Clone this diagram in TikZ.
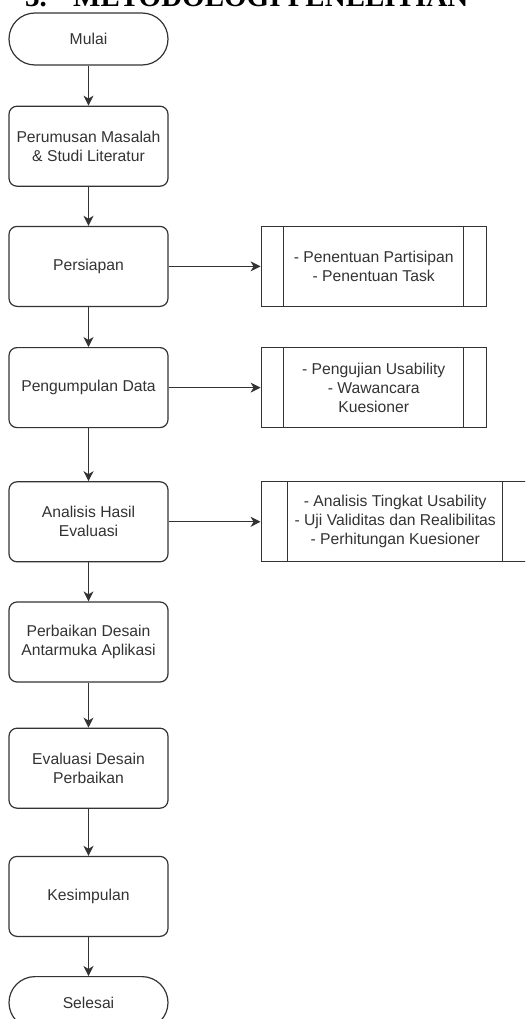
\documentclass[tikz,border=0pt]{standalone}
\usepackage{fontspec}
\usepackage{tikz}
\usetikzlibrary{positioning,arrows.meta}
\newfontfamily\flowfont{Liberation Sans}
\newfontfamily\headfont{Liberation Serif}
\colorlet{ink}{black!80}

\begin{document}
\begin{tikzpicture}[
    x=1pt,y=1pt,
    proc/.style={draw=ink,line width=1.2pt,rounded corners=8pt,minimum height=80pt,minimum width=159pt,
                 inner sep=2pt,font=\flowfont\fontsize{15.7}{19}\selectfont,text=ink,align=center},
    term/.style={proc,rounded corners=26pt,minimum height=52pt},
    subproc/.style={draw=ink,line width=1.2pt,minimum height=80pt,minimum width=#1,
                 inner sep=2pt,font=\flowfont\fontsize{15.7}{19}\selectfont,text=ink,align=center},
    arr/.style={-{Stealth[length=10pt,width=10pt,inset=3pt]},line width=1.2pt,draw=ink}
  ]
  \useasboundingbox (0,0) rectangle (525,-1019);
  \clip (0,0) rectangle (525,-1019);

  % Heading
  \node[anchor=base west,inner sep=0pt,font=\headfont\bfseries\fontsize{29}{34}\selectfont] (nomor) at (25,-7) {3.};
  \node[anchor=base west,inner sep=0pt,font=\headfont\bfseries\fontsize{29}{34}\selectfont] (judul) at (73,-7) {METODOLOGI PENELITIAN};

  % Main flow
  \node[term] (mulai) at (88.5,-39) {Mulai};
  \node[proc,below=40pt of mulai] (rumus) {Perumusan Masalah\\\& Studi Literatur};
  \node[proc,below=39pt of rumus] (siap) {Persiapan};
  \node[proc,below=40pt of siap] (kumpul) {Pengumpulan Data};
  \node[proc,below=53pt of kumpul] (analisis) {Analisis Hasil\\Evaluasi};
  \node[proc,below=39pt of analisis] (perbaikan) {Perbaikan Desain\\Antarmuka Aplikasi};
  \node[proc,below=45pt of perbaikan] (evaluasi) {Evaluasi Desain\\Perbaikan};
  \node[proc,below=47pt of evaluasi] (simpul) {Kesimpulan};
  \node[term,below=39pt of simpul] (selesai) {Selesai};
  \draw[arr] (mulai) -- (rumus);
  \draw[arr] (rumus) -- (siap);
  \draw[arr] (siap) -- (kumpul);
  \draw[arr] (kumpul) -- (analisis);
  \draw[arr] (analisis) -- (perbaikan);
  \draw[arr] (perbaikan) -- (evaluasi);
  \draw[arr] (evaluasi) -- (simpul);
  \draw[arr] (simpul) -- (selesai);

  % Details
  \node[subproc=225pt,right=92pt of siap] (siapdet) {- Penentuan Partisipan\\- Penentuan Task};
  \node[subproc=225pt,right=92pt of kumpul] (kumpuldet) {- Pengujian Usability\\- Wawancara\\Kuesioner};
  \node[subproc=268pt,right=92pt of analisis] (analisisdet) {- Analisis Tingkat Usability\\- Uji Validitas dan Realibilitas\\- Perhitungan Kuesioner};
  \draw[ink,line width=1.2pt] ([xshift=23pt]siapdet.north west) -- ([xshift=23pt]siapdet.south west)
                              ([xshift=-23pt]siapdet.north east) -- ([xshift=-23pt]siapdet.south east);
  \draw[ink,line width=1.2pt] ([xshift=23pt]kumpuldet.north west) -- ([xshift=23pt]kumpuldet.south west)
                              ([xshift=-23pt]kumpuldet.north east) -- ([xshift=-23pt]kumpuldet.south east);
  \draw[ink,line width=1.2pt] ([xshift=27pt]analisisdet.north west) -- ([xshift=27pt]analisisdet.south west)
                              ([xshift=-27pt]analisisdet.north east) -- ([xshift=-27pt]analisisdet.south east);
  \draw[arr] (siap) -- (siapdet);
  \draw[arr] (kumpul) -- (kumpuldet);
  \draw[arr] (analisis) -- (analisisdet);
\end{tikzpicture}
\end{document}
